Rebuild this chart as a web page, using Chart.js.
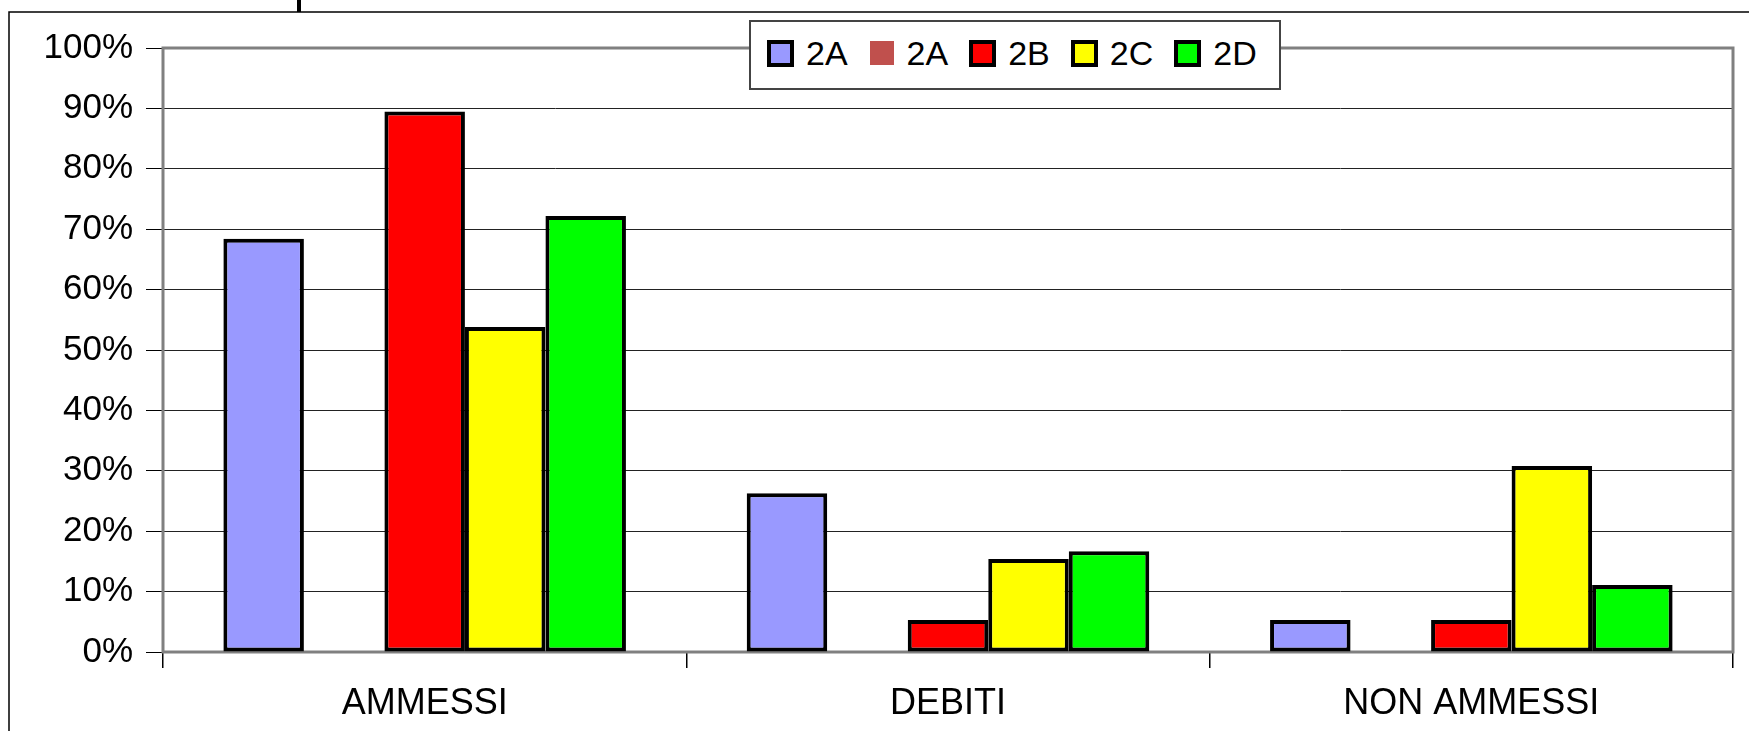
<!DOCTYPE html>
<html>
<head>
<meta charset="utf-8">
<script src="https://cdn.jsdelivr.net/npm/chart.js@4.4.1/dist/chart.umd.min.js"></script>
<style>
  body { margin: 0; background: #fff; }
  #box { position: relative; width: 1749px; height: 731px; }
  #legenda {
    position: absolute; left: 749px; top: 20px; width: 532px; height: 70px;
    border: 2px solid #444; background: #fff; box-sizing: border-box;
    display: flex; align-items: center; padding: 0 0 4px 16px;
    font-family: "Liberation Sans", Arial, sans-serif; font-size: 34px; color: #000;
  }
  .voce { display: flex; align-items: center; margin-right: 21px; }
  .quad { width: 27px; height: 27px; box-sizing: border-box; margin-right: 12px; }
</style>
</head>
<body>
<div id="box">
  <canvas id="grafico" width="1749" height="731"></canvas>
  <div id="legenda"></div>
</div>
<script>
const categorie = ["AMMESSI", "DEBITI", "NON AMMESSI"];
const serie = ["2A", "2A", "2B", "2C", "2D"];
const val2A = [68.4, 26.3, 5.3];
const val2Abis = [null, null, null];
const val2B = [89.5, 5.3, 5.3];
const val2C = [53.8, 15.4, 30.8];
const val2D = [72.2, 16.7, 11.1];
const colori = ["#9999FF", "#C0504D", "#FF0000", "#FFFF00", "#00FF00"];
const bordi = [true, false, true, true, true];

const valori = [val2A, val2Abis, val2B, val2C, val2D];
const fontY = { family: "'Liberation Sans', Arial, sans-serif", size: 35 };
const fontX = { family: "'Liberation Sans', Arial, sans-serif", size: 36 };

// legenda in html sopra il grafico
const legenda = document.getElementById("legenda");
serie.forEach((nome, i) => {
  const voce = document.createElement("div");
  voce.className = "voce";
  const q = document.createElement("span");
  q.className = "quad";
  q.style.background = colori[i];
  q.style.border = bordi[i] ? "4px solid #000" : "none";
  if (!bordi[i]) { q.style.width = "24px"; q.style.height = "24px"; q.style.margin = "0 13px 0 1px"; }
  voce.appendChild(q);
  voce.appendChild(document.createTextNode(nome));
  legenda.appendChild(voce);
});

const cornice = {
  id: "cornice",
  beforeDraw(chart) {
    const c = chart.ctx;
    c.save();
    c.strokeStyle = "#000";
    c.lineWidth = 1.5;
    c.beginPath();
    c.moveTo(9, 731);
    c.lineTo(9, 12);
    c.lineTo(1749, 12);
    c.stroke();
    c.lineWidth = 4;
    c.beginPath();
    c.moveTo(299, 0);
    c.lineTo(299, 12);
    c.stroke();
    c.restore();
  },
  beforeDatasetsDraw(chart) {
    const a = chart.chartArea;
    const c = chart.ctx;
    c.save();
    c.strokeStyle = "#808080";
    c.lineWidth = 3;
    c.strokeRect(a.left, a.top, a.right - a.left, a.bottom - a.top);
    c.restore();
  },
};

new Chart(document.getElementById("grafico"), {
  type: "bar",
  data: {
    labels: categorie,
    datasets: serie.map((nome, i) => ({
      label: nome,
      data: valori[i],
      backgroundColor: colori[i],
      borderColor: "#000",
      borderWidth: 4,
      borderSkipped: false,
      categoryPercentage: 5 / 6.5,
      barPercentage: 1,
    })),
  },
  options: {
    responsive: false,
    animation: false,
    layout: { padding: { top: 48, right: 16, left: 0, bottom: 0 } },
    plugins: { legend: { display: false }, tooltip: { enabled: false } },
    scales: {
      x: {
        afterFit: (s) => { s.height = 79; },
        grid: {
          offset: true,
          drawOnChartArea: false,
          drawTicks: true,
          tickLength: 16,
          color: "#000",
          lineWidth: 1.5,
        },
        border: { display: false },
        ticks: { font: fontX, color: "#000", padding: 14 },
      },
      y: {
        min: 0,
        max: 100,
        afterFit: (s) => { s.width = 163; },
        grid: {
          color: "#222",
          lineWidth: 1,
          tickLength: 17,
          tickColor: "#000",
        },
        border: { display: false },
        ticks: {
          stepSize: 10,
          font: fontY,
          color: "#000",
          padding: 13,
          callback: (v) => v + "%",
        },
      },
    },
  },
  plugins: [cornice],
});
</script>
</body>
</html>
